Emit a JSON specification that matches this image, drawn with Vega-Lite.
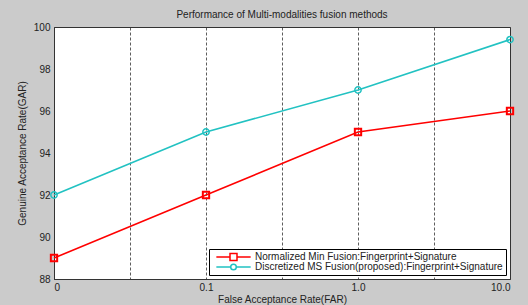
{
  "$schema": "https://vega.github.io/schema/vega-lite/v6.json",
  "width": 456,
  "height": 252,
  "autosize": {"type": "none"},
  "padding": {"left": 54, "top": 27, "right": 18, "bottom": 26},
  "background": "#cbcbcb",
  "config": {
    "font": "Liberation Sans",
    "view": {"fill": "white", "stroke": "#333333", "strokeWidth": 1},
    "axis": {
      "labelFontSize": 10,
      "titleFontSize": 10,
      "titleFontWeight": "normal",
      "labelColor": "#222222",
      "titleColor": "#222222",
      "domainColor": "#333333",
      "tickColor": "#333333"
    },
    "legend": {
      "orient": "bottom-right",
      "offset": 4,
      "strokeColor": "#000000",
      "fillColor": "white",
      "padding": 3,
      "symbolSize": 49,
      "symbolStrokeWidth": 1.5,
      "symbolOpacity": 1,
      "symbolOffset": 16.5,
      "labelOffset": 16.5,
      "labelFontSize": 10,
      "labelColor": "#222222",
      "labelLimit": 400,
      "rowPadding": 0,
      "clipHeight": 10
    }
  },
  "title": {
    "text": "Performance of Multi-modalities fusion methods",
    "fontSize": 10,
    "fontWeight": "normal",
    "color": "#222222",
    "offset": 2,
    "anchor": "middle"
  },
  "data": {
    "values": [
      {"far": "0", "pos": 0, "series": "Normalized Min Fusion:Fingerprint+Signature", "gar": 89},
      {"far": "0.1", "pos": 2, "series": "Normalized Min Fusion:Fingerprint+Signature", "gar": 92},
      {"far": "1.0", "pos": 4, "series": "Normalized Min Fusion:Fingerprint+Signature", "gar": 95},
      {"far": "10.0", "pos": 6, "series": "Normalized Min Fusion:Fingerprint+Signature", "gar": 96},
      {"far": "0", "pos": 0, "series": "Discretized MS Fusion(proposed):Fingerprint+Signature", "gar": 92},
      {"far": "0.1", "pos": 2, "series": "Discretized MS Fusion(proposed):Fingerprint+Signature", "gar": 95},
      {"far": "1.0", "pos": 4, "series": "Discretized MS Fusion(proposed):Fingerprint+Signature", "gar": 97},
      {"far": "10.0", "pos": 6, "series": "Discretized MS Fusion(proposed):Fingerprint+Signature", "gar": 99.4}
    ]
  },
  "encoding": {
    "x": {
      "field": "pos",
      "type": "quantitative",
      "scale": {"domain": [0, 6], "nice": false, "zero": false},
      "axis": {
        "title": "False Acceptance Rate(FAR)",
        "values": [0, 1, 2, 3, 4, 5, 6],
        "labelExpr": "datum.value == 0 ? '0' : datum.value == 2 ? '0.1' : datum.value == 4 ? '1.0' : datum.value == 6 ? '10.0' : ''",
        "grid": true,
        "gridColor": "#333333",
        "gridDash": [3, 2],
        "gridWidth": 0.8,
        "ticks": false,
        "labelPadding": 3,
        "titlePadding": 2
      }
    },
    "y": {
      "field": "gar",
      "type": "quantitative",
      "scale": {"domain": [88, 100], "nice": false, "zero": false},
      "axis": {
        "title": "Genuine Acceptance Rate(GAR)",
        "values": [88, 90, 92, 94, 96, 98, 100],
        "grid": false,
        "ticks": false,
        "labelPadding": 4,
        "titlePadding": 6
      }
    }
  },
  "layer": [
    {
      "mark": {"type": "point", "filled": false, "opacity": 0, "strokeWidth": 1.5},
      "encoding": {
        "color": {
          "field": "series",
          "type": "nominal",
          "scale": {
            "domain": ["Normalized Min Fusion:Fingerprint+Signature", "Discretized MS Fusion(proposed):Fingerprint+Signature"],
            "range": ["#ff0000", "#22c2c2"]
          },
          "legend": {"title": null, "rowPadding": 0, "clipHeight": 10}
        },
        "shape": {
          "field": "series",
          "type": "nominal",
          "scale": {
            "domain": ["Normalized Min Fusion:Fingerprint+Signature", "Discretized MS Fusion(proposed):Fingerprint+Signature"],
            "range": ["M-4.9,0H-1M1,0H4.9M-1,-1H1V1H-1Z", "M-4.9,0H-0.8M0.8,0H4.9M0.8,0A0.8,0.8,0,1,1,-0.8,0A0.8,0.8,0,1,1,0.8,0"]
          },
          "legend": {"title": null, "rowPadding": 0, "clipHeight": 10}
        }
      }
    },
    {
      "mark": {"type": "line", "strokeWidth": 1.6},
      "encoding": {
        "color": {"field": "series", "type": "nominal"}
      }
    },
    {
      "transform": [{"filter": "datum.series == 'Normalized Min Fusion:Fingerprint+Signature'"}],
      "mark": {"type": "point", "shape": "square", "filled": false, "strokeWidth": 2, "size": 40, "opacity": 1},
      "encoding": {"color": {"field": "series", "type": "nominal"}}
    },
    {
      "transform": [{"filter": "datum.series == 'Discretized MS Fusion(proposed):Fingerprint+Signature'"}],
      "mark": {"type": "point", "shape": "circle", "filled": false, "strokeWidth": 1.5, "size": 40, "opacity": 1},
      "encoding": {"color": {"field": "series", "type": "nominal"}}
    }
  ]
}
